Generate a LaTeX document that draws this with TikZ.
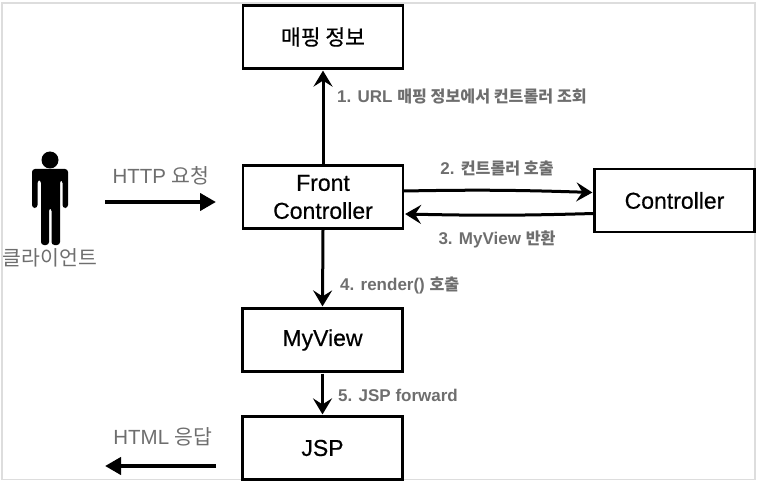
\documentclass[tikz,border=0pt]{standalone}
\usepackage{fontspec}
\setmainfont{Liberation Sans}
\newfontfamily\kr{Noto Sans CJK KR}
\newfontfamily\krs[Scale=0.95]{Noto Sans CJK KR}
\newfontfamily\boxfont[RawFeature={embolden=0.5}]{Liberation Sans}
\newfontfamily\boxkr[RawFeature={embolden=0.5}]{Noto Sans CJK KR}
\usetikzlibrary{arrows.meta,bending}
\definecolor{lblgray}{HTML}{6E6E6E}
\definecolor{framegray}{HTML}{DDDDDD}
\tikzset{
  box/.style={draw,line width=2.2pt,minimum width=160pt,minimum height=63pt,align=center,font=\fontsize{23}{28}\selectfont\boxfont},
  label/.style={text=lblgray,font=\fontsize{20.5}{22}\selectfont,inner sep=0pt},
  steplabel/.style={text=lblgray,font=\fontsize{17}{20}\selectfont\bfseries,inner sep=0pt},
  flow/.style={line width=3pt,-{Stealth[length=16pt,width=19pt,inset=6pt]}},
  bigflow/.style={line width=4pt,-{Triangle[length=16pt,width=17pt]}}
}
\begin{document}
\begin{tikzpicture}[x=1pt,y=-1pt]
\useasboundingbox (0,0) rectangle (757,481);
\draw[framegray,line width=1.2pt] (2,3) rectangle (755,479.5);
% boxes
\node[box] (mapping) at (323,37) {\fontsize{21.5}{28}\selectfont\boxkr 매핑 정보};
\node[box] (front) at (323,197) {Front\\Controller};
\node[box] (ctrl) at (674.5,200.5) {Controller};
\node[box] (myview) at (322.5,340) {MyView};
\node[box] (jsp) at (322.5,448) {JSP};
% client
\fill (50,160) circle [radius=8.5];
\fill[rounded corners=3pt] (32,208) -- (32,169) -- (68,169) -- (68,208) -- (62.5,208) -- (62.5,180) -- (60,180) -- (60,245) -- (51.5,245) -- (51.5,208) -- (49,208) -- (49,245) -- (41,245) -- (41,180) -- (37.5,180) -- (37.5,208) -- cycle;
\node[label,font=\fontsize{20.5}{22}\selectfont\kr] (client) at (50,258) {클라이언트};
% request and response
\coordinate (reqstart) at (105,202);
\coordinate (reqend) at (216,202);
\draw[bigflow] (reqstart) -- (reqend);
\node[label] (req) at (161,176) {HTTP {\kr 요청}};
\coordinate (respstart) at (216,466);
\coordinate (respend) at (105,466);
\draw[bigflow] (respstart) -- (respend);
\node[label] (resp) at (163,437) {HTML {\kr 응답}};
% calls
\draw[flow] (front.north) -- ([yshift=-1pt]mapping.south);
\draw[flow] ([yshift=6pt]front.east) to[bend left=1.5] ([xshift=-1pt,yshift=8pt]ctrl.west);
\draw[flow] ([yshift=-13pt]ctrl.west) to[bend left=1.5] ([xshift=1pt,yshift=-17pt]front.east);
\draw[flow] (front.south) -- ([yshift=1pt]myview.north);
\draw[flow] ([yshift=-1pt]myview.south) -- ([yshift=1pt]jsp.north);
% step labels
\node[steplabel,anchor=west] (one) at (337,96) {1. URL {\krs 매핑 정보에서 컨트롤러 조회}};
\node[steplabel] (two) at (497,168) {2. {\krs 컨트롤러 호출}};
\node[steplabel] (three) at (497,239) {3. MyView {\krs 반환}};
\node[steplabel,anchor=west] (four) at (340,285) {4. render() {\krs 호출}};
\node[steplabel,anchor=west] (five) at (338,395) {5. JSP forward};
\end{tikzpicture}
\end{document}
